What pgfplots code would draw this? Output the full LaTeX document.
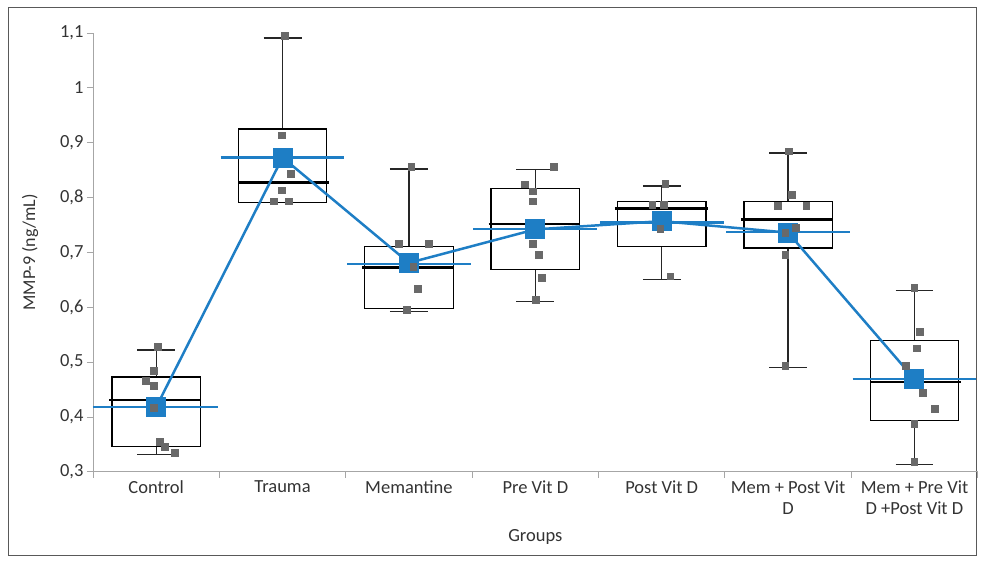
\documentclass[border=0pt]{standalone}
\usepackage{pgfplots}
\pgfplotsset{compat=1.18}
\usepackage{fontspec}
\setmainfont{Carlito}
\definecolor{meanblue}{RGB}{30,126,197}
\definecolor{ptgray}{RGB}{105,105,105}
\begin{document}
\begin{tikzpicture}
\path (0pt,0pt) rectangle (981pt,563pt);
\draw[black!65, line width=0.8pt] (8.5pt,7.5pt) rectangle (976.5pt,555.5pt);
\begin{axis}[
  at={(93pt,91pt)}, anchor=south west,
  scale only axis, width=885pt, height=439pt,
  xmin=-0.5, xmax=6.5, ymin=0.3, ymax=1.1,
  axis x line*=bottom, axis y line*=left,
  axis line style={draw=black!35, line width=0.9pt, -},
  ytick={0.3,0.4,0.5,0.6,0.7,0.8,0.9,1,1.1},
  tick align=outside, major tick length=6pt,
  tick style={draw=black!35, line width=0.9pt},
  xtick={-0.5,0.5,1.5,2.5,3.5,4.5,5.5,6.5}, xticklabels={},
  extra x ticks={0,1,2,3,4,5,6},
  extra x tick labels={Control,Trauma,Memantine,Pre Vit D,Post Vit D,{Mem + Post Vit\\D},{Mem + Pre Vit\\D +Post Vit D}},
  extra x tick style={major tick length=0pt},
  xticklabel style={font=\fontsize{18.5}{21}\selectfont, align=center, anchor=north, yshift=-5pt, text=black!80},
  yticklabel style={font=\fontsize{18.5}{21}\selectfont, text=black!80},
  /pgf/number format/use comma, /pgf/number format/fixed, /pgf/number format/precision=1,
  /pgf/number format/assume math mode=true,
  ylabel={MMP-9 (ng/mL)},
  ylabel style={font=\fontsize{18}{21}\selectfont, text=black!80, at={(axis description cs:-0.058,0.5)}, anchor=south},
  xlabel={Groups},
  xlabel style={font=\fontsize{18.5}{21}\selectfont, text=black!80, at={(axis description cs:0.5,0)}, anchor=center, yshift=-65pt},
  clip=false, unbounded coords=jump,
]
\pgfplotsset{bx/.style={black, line width=1.3pt, fill=white, no marks},
             wh/.style={black!85, line width=1.3pt, no marks}}
% whiskers (vertical + caps)
\addplot[wh] coordinates {(0,0.473) (0,0.522) (nan,nan) (-0.15,0.522) (0.15,0.522) (nan,nan) (0,0.346) (0,0.331) (nan,nan) (-0.15,0.331) (0.15,0.331)};
\addplot[wh] coordinates {(1,0.925) (1,1.091) (nan,nan) (0.85,1.091) (1.15,1.091)};
\addplot[wh] coordinates {(2,0.711) (2,0.852) (nan,nan) (1.85,0.852) (2.15,0.852) (nan,nan) (2,0.598) (2,0.592) (nan,nan) (1.85,0.592) (2.15,0.592)};
\addplot[wh] coordinates {(3,0.816) (3,0.851) (nan,nan) (2.85,0.851) (3.15,0.851) (nan,nan) (3,0.669) (3,0.610) (nan,nan) (2.85,0.610) (3.15,0.610)};
\addplot[wh] coordinates {(4,0.793) (4,0.821) (nan,nan) (3.85,0.821) (4.15,0.821) (nan,nan) (4,0.711) (4,0.651) (nan,nan) (3.85,0.651) (4.15,0.651)};
\addplot[wh] coordinates {(5,0.793) (5,0.881) (nan,nan) (4.85,0.881) (5.15,0.881) (nan,nan) (5,0.708) (5,0.490) (nan,nan) (4.85,0.490) (5.15,0.490)};
\addplot[wh] coordinates {(6,0.540) (6,0.631) (nan,nan) (5.85,0.631) (6.15,0.631) (nan,nan) (6,0.393) (6,0.313) (nan,nan) (5.85,0.313) (6.15,0.313)};
% boxes
\addplot[bx] coordinates {(-0.35,0.346) (0.35,0.346) (0.35,0.473) (-0.35,0.473)} -- cycle;
\addplot[bx] coordinates {(0.65,0.791) (1.35,0.791) (1.35,0.925) (0.65,0.925)} -- cycle;
\addplot[bx] coordinates {(1.65,0.598) (2.35,0.598) (2.35,0.711) (1.65,0.711)} -- cycle;
\addplot[bx] coordinates {(2.65,0.669) (3.35,0.669) (3.35,0.816) (2.65,0.816)} -- cycle;
\addplot[bx] coordinates {(3.65,0.711) (4.35,0.711) (4.35,0.793) (3.65,0.793)} -- cycle;
\addplot[bx] coordinates {(4.65,0.708) (5.35,0.708) (5.35,0.793) (4.65,0.793)} -- cycle;
\addplot[bx] coordinates {(5.65,0.393) (6.35,0.393) (6.35,0.540) (5.65,0.540)} -- cycle;
% medians
\pgfplotsset{med/.style={black, line width=2.6pt, no marks}}
\addplot[med] coordinates {(-0.37,0.431) (0.35,0.431)};
\addplot[med] coordinates {(0.65,0.827) (1.37,0.827)};
\addplot[med] coordinates {(1.63,0.673) (2.35,0.673)};
\addplot[med] coordinates {(2.63,0.752) (3.35,0.752)};
\addplot[med] coordinates {(3.63,0.780) (4.37,0.780)};
\addplot[med] coordinates {(4.63,0.760) (5.35,0.760)};
\addplot[med] coordinates {(5.65,0.464) (6.37,0.464)};
% mean lines
\pgfplotsset{mline/.style={meanblue, line width=2.5pt, no marks}}
\addplot[mline] coordinates {(-0.5,0.418) (0.49,0.418)};
\addplot[mline] coordinates {(0.51,0.873) (1.49,0.873)};
\addplot[mline] coordinates {(1.51,0.679) (2.49,0.679)};
\addplot[mline] coordinates {(2.51,0.743) (3.49,0.743)};
\addplot[mline] coordinates {(3.51,0.755) (4.49,0.755)};
\addplot[mline] coordinates {(4.51,0.737) (5.49,0.737)};
\addplot[mline] coordinates {(5.51,0.469) (6.49,0.469)};
% connecting line of means
\addplot[meanblue, line width=2.5pt, mark=square*, mark size=9.5pt, mark options={solid, fill=meanblue, draw=meanblue, line width=0pt}]
  coordinates {(0,0.418) (1,0.873) (2,0.681) (3,0.742) (4,0.757) (5,0.736) (6,0.469)};
% data points
\addplot[ptgray, only marks, mark=square*, mark size=3.4pt, mark options={fill=ptgray, draw=ptgray, line width=0pt}] coordinates {
 (0.016,0.527) (-0.018,0.484) (-0.08,0.465) (-0.018,0.456) (-0.016,0.416) (0.03,0.354) (0.07,0.346) (0.15,0.334)
 (1.022,1.095) (0.993,0.913) (1.07,0.843) (0.993,0.813) (0.93,0.793) (1.05,0.793)
 (2.02,0.856) (1.92,0.715) (2.16,0.715) (2.036,0.674) (2.073,0.633) (1.983,0.595)
 (3.146,0.855) (2.918,0.824) (2.982,0.811) (2.982,0.793) (2.982,0.715) (3.032,0.695) (3.055,0.654) (3.008,0.613)
 (4.03,0.825) (3.927,0.787) (4.015,0.787) (3.99,0.743) (4.07,0.656)
 (5.007,0.884) (5.028,0.805) (4.917,0.784) (5.146,0.784) (5.06,0.745) (4.98,0.735) (4.98,0.695) (4.98,0.493)
 (6.0,0.635) (6.044,0.555) (6.02,0.525) (5.933,0.493) (6.07,0.444) (6.16,0.415) (6.0,0.387) (6.0,0.318)
};
\end{axis}
\end{tikzpicture}
\end{document}
